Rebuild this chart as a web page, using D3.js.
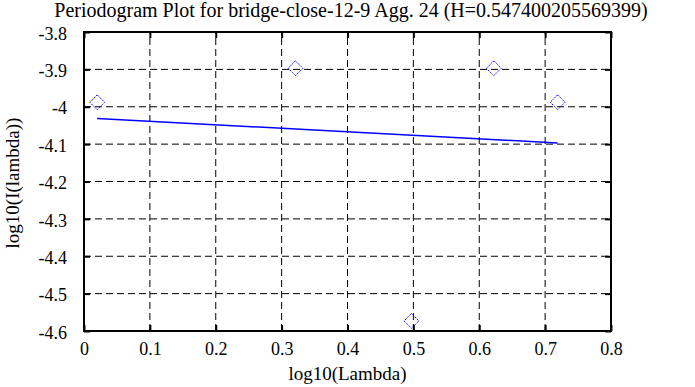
<!DOCTYPE html>
<html>
<head>
<meta charset="utf-8">
<script src="https://cdn.jsdelivr.net/npm/d3@7"></script>
<style>
body { margin: 0; background: #fff; }
text { font-family: "Liberation Serif", "DejaVu Serif", serif; fill: #000; }
</style>
</head>
<body>
<div id="chart"></div>
<script>
var W = 695, H = 387;
var margin = {left: 84, right: 84, top: 32, bottom: 56};

// periodogram points
var logLambda = [0.0200, 0.3210, 0.4971, 0.6221, 0.7190];
var logI = [-3.988, -3.897, -4.573, -3.897, -3.988];

// fitted line
var fitX = [0.0200, 0.7190];
var fitY = [-4.0312, -4.0970];

var xTicks = [0, 0.1, 0.2, 0.3, 0.4, 0.5, 0.6, 0.7, 0.8];
var yTicks = [-3.8, -3.9, -4, -4.1, -4.2, -4.3, -4.4, -4.5, -4.6];

var title = "Periodogram Plot for bridge-close-12-9 Agg. 24 (H=0.547400205569399)";

var svg = d3.select("#chart").append("svg")
	.attr("width", W)
	.attr("height", H);

var x = d3.scaleLinear().domain([0, 0.8]).range([margin.left, W - margin.right]);
var y = d3.scaleLinear().domain([-4.6, -3.8]).range([H - margin.bottom, margin.top]);

// grid
var grid = svg.append("g");
grid.selectAll(".vg").data(xTicks.slice(1, -1)).enter().append("line")
	.attr("x1", d => x(d)).attr("x2", d => x(d))
	.attr("y1", y(-4.6)).attr("y2", y(-3.8))
	.attr("stroke", "#000").attr("stroke-width", 1)
	.attr("stroke-dasharray", "7,4");
grid.selectAll(".hg").data(yTicks.slice(1, -1)).enter().append("line")
	.attr("y1", d => y(d)).attr("y2", d => y(d))
	.attr("x1", x(0)).attr("x2", x(0.8))
	.attr("stroke", "#000").attr("stroke-width", 1)
	.attr("stroke-dasharray", "7,4");

// axes
var xAxis = svg.append("g")
	.attr("transform", "translate(0," + y(-4.6) + ")")
	.call(d3.axisBottom(x).tickValues(xTicks).tickSizeInner(-6).tickSizeOuter(0).tickPadding(11)
		.tickFormat(d => String(d)));
var xAxisTop = svg.append("g")
	.attr("transform", "translate(0," + y(-3.8) + ")")
	.call(d3.axisTop(x).tickValues(xTicks).tickSizeInner(-6).tickSizeOuter(0).tickFormat(""));
var yAxis = svg.append("g")
	.attr("transform", "translate(" + x(0) + ",0)")
	.call(d3.axisLeft(y).tickValues(yTicks).tickSizeInner(-6).tickSizeOuter(0).tickPadding(17)
		.tickFormat(d => String(d)));
var yAxisRight = svg.append("g")
	.attr("transform", "translate(" + x(0.8) + ",0)")
	.call(d3.axisRight(y).tickValues(yTicks).tickSizeInner(-6).tickSizeOuter(0).tickFormat(""));

svg.selectAll(".domain").remove();
svg.selectAll(".tick line").attr("stroke", "#000").attr("stroke-width", 2);
svg.selectAll(".tick text").attr("font-size", "18px")
	.attr("font-family", "'Liberation Serif', serif").attr("fill", "#000");
yAxis.selectAll(".tick text").attr("dy", "0.4em");

// frame
svg.append("rect")
	.attr("x", x(0)).attr("y", y(-3.8))
	.attr("width", x(0.8) - x(0)).attr("height", y(-4.6) - y(-3.8))
	.attr("fill", "none").attr("stroke", "#000").attr("stroke-width", 2);

// fit line
svg.append("path")
	.datum(d3.zip(fitX, fitY))
	.attr("d", d3.line().x(d => x(d[0])).y(d => y(d[1])))
	.attr("fill", "none").attr("stroke", "#0000ff").attr("stroke-width", 1.5);

// diamonds
svg.selectAll(".pt").data(d3.zip(logLambda, logI)).enter().append("path")
	.attr("d", d3.symbol().type(d3.symbolDiamond2).size(140))
	.attr("transform", d => "translate(" + x(d[0]) + "," + y(d[1]) + ") ")
	.attr("fill", "none").attr("stroke", "#0000ff").attr("stroke-width", 1)
	.attr("stroke-dasharray", "1.5,1");

// titles
svg.append("text")
	.attr("x", 351).attr("y", 17)
	.attr("text-anchor", "middle")
	.attr("font-size", "20px")
	.text(title);

svg.append("text")
	.attr("x", (x(0) + x(0.8)) / 2).attr("y", 380)
	.attr("text-anchor", "middle")
	.attr("font-size", "19px")
	.text("log10(Lambda)");

svg.append("text")
	.attr("transform", "translate(19,183) rotate(-90)")
	.attr("text-anchor", "middle")
	.attr("font-size", "19px")
	.text("log10(I(lambda))");
</script>
</body>
</html>
